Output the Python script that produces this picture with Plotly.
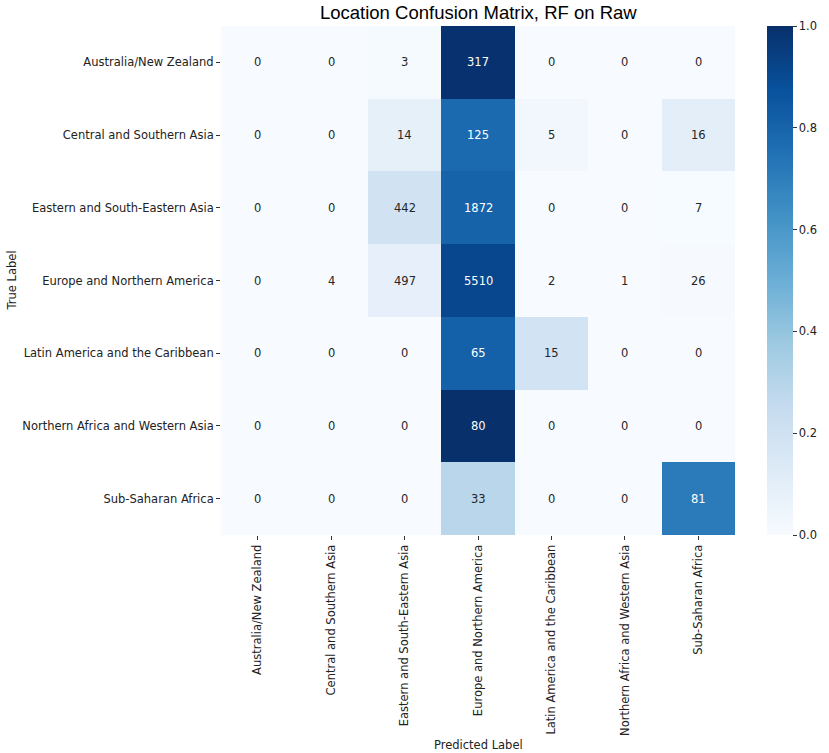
import plotly.graph_objects as go

labels = [
    "Australia/New Zealand",
    "Central and Southern Asia",
    "Eastern and South-Eastern Asia",
    "Europe and Northern America",
    "Latin America and the Caribbean",
    "Northern Africa and Western Asia",
    "Sub-Saharan Africa",
]

# Rows: true label, columns: predicted label
counts = [
    [0, 0, 3, 317, 0, 0, 0],
    [0, 0, 14, 125, 5, 0, 16],
    [0, 0, 442, 1872, 0, 0, 7],
    [0, 4, 497, 5510, 2, 1, 26],
    [0, 0, 0, 65, 15, 0, 0],
    [0, 0, 0, 80, 0, 0, 0],
    [0, 0, 0, 33, 0, 0, 81],
]

colorbar_ticks = [0.0, 0.2, 0.4, 0.6, 0.8, 1.0]

# Row-normalised rates drive the colours
norm = [[c / sum(row) if sum(row) else 0 for c in row] for row in counts]

blues = [
    [0.0, "#f7fbff"], [0.125, "#deebf7"], [0.25, "#c6dbef"], [0.375, "#9ecae1"],
    [0.5, "#6baed6"], [0.625, "#4292c6"], [0.75, "#2171b5"], [0.875, "#08519c"],
    [1.0, "#08306b"],
]

FS = 11.5
TXT = "#222"

fig = go.Figure(go.Heatmap(
    z=norm, x=labels, y=labels, zmin=0, zmax=1, colorscale=blues,
    showscale=True,
    colorbar=dict(
        x=1.062, xanchor="left", y=0.5, yanchor="middle", len=1.0, lenmode="fraction",
        ypad=0, xpad=0,
        thickness=26, outlinewidth=0, tickvals=colorbar_ticks,
        ticktext=[f"{v:.1f}" for v in colorbar_ticks],
        ticks="outside", ticklen=4, tickcolor="#333",
        tickfont=dict(family="DejaVu Sans", size=FS, color=TXT),
    ),
    hoverinfo="skip",
))

annotations = []
for i, row in enumerate(counts):
    for j, c in enumerate(row):
        annotations.append(dict(
            x=labels[j], y=labels[i], text=str(c), showarrow=False,
            font=dict(family="DejaVu Sans", size=FS,
                      color="white" if norm[i][j] > 0.5 else "#262626"),
        ))

annotations.append(dict(
    text="True Label", xref="paper", yref="paper", x=0, xshift=-210, y=0.5,
    xanchor="center", yanchor="middle", textangle=-90, showarrow=False,
    font=dict(family="DejaVu Sans", size=FS, color=TXT),
))
annotations.append(dict(
    text="Predicted Label", xref="paper", yref="paper", x=0.5, y=0,
    yshift=-210, xanchor="center", yanchor="middle", showarrow=False,
    font=dict(family="DejaVu Sans", size=FS, color=TXT),
))

fig.update_layout(
    width=829, height=753,
    margin=dict(l=221, r=94, t=26, b=218, autoexpand=False),
    paper_bgcolor="white", plot_bgcolor="white",
    title=dict(text="Location Confusion Matrix, RF on Raw", x=0.577, xanchor="center",
               y=0.984, yanchor="middle",
               font=dict(family="Liberation Sans", size=18.5, color="black")),
    annotations=annotations,
    xaxis=dict(tickangle=-90, ticks="outside", ticklen=4, tickcolor="#333",
               tickfont=dict(family="DejaVu Sans", size=FS, color=TXT),
               showgrid=False, zeroline=False, showline=False),
    yaxis=dict(autorange="reversed", ticks="outside", ticklen=4, tickcolor="#333",
               tickfont=dict(family="DejaVu Sans", size=FS, color=TXT),
               showgrid=False, zeroline=False, showline=False),
)

fig.write_html("out.html")
